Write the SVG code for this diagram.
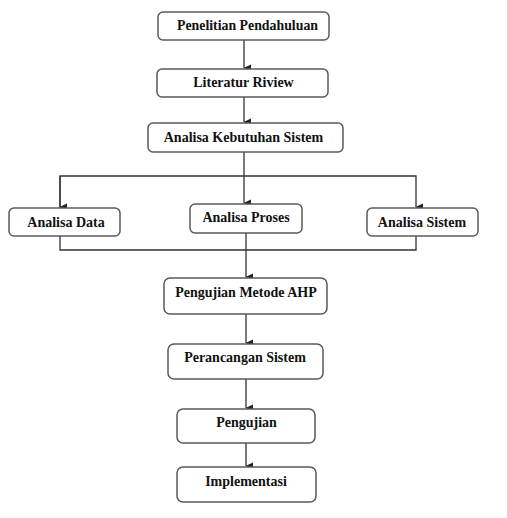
<svg xmlns="http://www.w3.org/2000/svg" width="507" height="518" viewBox="0 0 507 518">
<style>
.box{fill:#fff;stroke:#5a5a5a;stroke-width:1.5}
.t{font-family:"Liberation Serif","Times New Roman",serif;font-weight:bold;font-size:14px;fill:#111;text-anchor:middle}
.c{fill:none;stroke:#333;stroke-width:1.3}
</style>
<defs>
<marker id="a" markerWidth="8" markerHeight="8" refX="4" refY="7" orient="auto-start-reverse" markerUnits="userSpaceOnUse" viewBox="0 0 8 8">
<path d="M0.5,0 L7.5,0 L4,7.5 Z" fill="#222"/>
</marker>
</defs>
<rect width="507" height="518" fill="#fff"/>
<g id="connectors">
<path class="c" d="M244,40 V68" marker-end="url(#a)"/>
<path class="c" d="M244,97 V122" marker-end="url(#a)"/>
<path class="c" d="M244,152 V203" marker-end="url(#a)"/>
<path class="c" d="M60,208 V176 H416 V207" marker-end="url(#a)"/>
<path class="c" d="M60,176 V207" marker-end="url(#a)"/>
<path class="c" d="M60,236 V250 H416 V236"/>
<path class="c" d="M246,233 V277" marker-end="url(#a)"/>
<path class="c" d="M246,314 V343" marker-end="url(#a)"/>
<path class="c" d="M246,379 V408" marker-end="url(#a)"/>
<path class="c" d="M246,443 V466" marker-end="url(#a)"/>
</g>
<g id="n1"><rect class="box" x="158" y="12" width="171" height="28" rx="5"/><text class="t" x="247.5" y="30" textLength="141" lengthAdjust="spacingAndGlyphs">Penelitian Pendahuluan</text></g>
<g id="n2"><rect class="box" x="157" y="69" width="171" height="28" rx="5"/><text class="t" x="243.5" y="86.5">Literatur Riview</text></g>
<g id="n3"><rect class="box" x="148" y="123" width="195" height="29" rx="5"/><text class="t" x="243.5" y="141.5">Analisa Kebutuhan Sistem</text></g>
<g id="n4"><rect class="box" x="9" y="208" width="111" height="28" rx="5"/><text class="t" x="66" y="226.5">Analisa Data</text></g>
<g id="n5"><rect class="box" x="190" y="204" width="112" height="29" rx="5"/><text class="t" x="246" y="222">Analisa Proses</text></g>
<g id="n6"><rect class="box" x="367" y="208" width="111" height="28" rx="5"/><text class="t" x="422" y="226.5">Analisa Sistem</text></g>
<g id="n7"><rect class="box" x="164" y="278" width="163" height="36" rx="6"/><text class="t" x="246" y="297">Pengujian Metode AHP</text></g>
<g id="n8"><rect class="box" x="168" y="344" width="155" height="35" rx="6"/><text class="t" x="245" y="362">Perancangan Sistem</text></g>
<g id="n9"><rect class="box" x="177" y="409" width="138" height="34" rx="6"/><text class="t" x="246.5" y="426.5">Pengujian</text></g>
<g id="n10"><rect class="box" x="177" y="467" width="139" height="35" rx="6"/><text class="t" x="246" y="486">Implementasi</text></g>
</svg>
